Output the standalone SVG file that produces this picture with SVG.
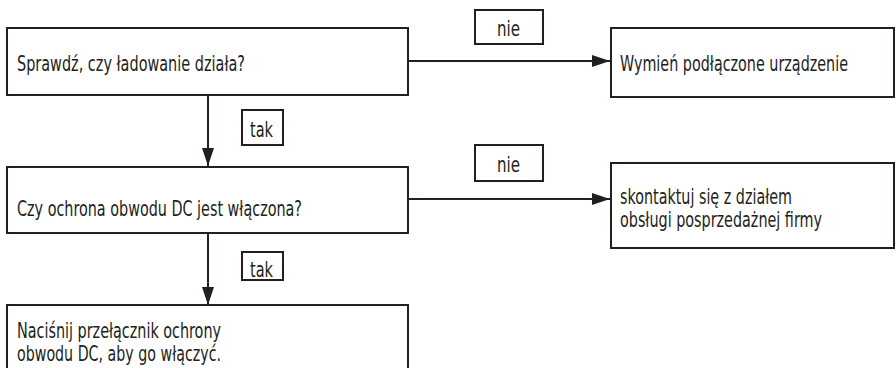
<svg xmlns="http://www.w3.org/2000/svg" width="896" height="368" viewBox="0 0 896 368">
  <style>
    .box { fill: #ffffff; stroke: #231f20; stroke-width: 2; }
    .lbl { fill: #ffffff; stroke: #231f20; stroke-width: 2; }
    .line { fill: none; stroke: #231f20; stroke-width: 2; }
    text { font-family: "DejaVu Sans Condensed", "Liberation Sans Narrow", "Liberation Sans", sans-serif; font-size: 21px; fill: #231f20; }
  </style>
  <defs>
    <marker id="arrow" viewBox="0 0 18 12" refX="18" refY="6" markerWidth="18" markerHeight="12" markerUnits="userSpaceOnUse" orient="auto">
      <path d="M0,0 L18,6 L0,12 Z" fill="#231f20"/>
    </marker>
  </defs>

  <g id="connectors">
    <line class="line" x1="408" y1="61" x2="610" y2="61" marker-end="url(#arrow)"/>
    <line class="line" x1="408" y1="199" x2="610" y2="199" marker-end="url(#arrow)"/>
    <line class="line" x1="208" y1="95" x2="208" y2="166" marker-end="url(#arrow)"/>
    <line class="line" x1="208" y1="233" x2="208" y2="305" marker-end="url(#arrow)"/>
  </g>

  <g id="check-charging">
    <rect class="box" x="7" y="28" width="401" height="67"/>
    <text x="17" y="71" textLength="228" lengthAdjust="spacingAndGlyphs">Sprawdź, czy ładowanie działa?</text>
  </g>

  <g id="replace-device">
    <rect class="box" x="611" y="28" width="283" height="69"/>
    <text x="620" y="71" textLength="228" lengthAdjust="spacingAndGlyphs">Wymień podłączone urządzenie</text>
  </g>

  <g id="check-dc-protection">
    <rect class="box" x="7" y="167" width="401" height="66"/>
    <text x="17" y="216" textLength="285" lengthAdjust="spacingAndGlyphs">Czy ochrona obwodu DC jest włączona?</text>
  </g>

  <g id="contact-service">
    <rect class="box" x="611" y="163" width="283" height="85"/>
    <text x="620" y="204" textLength="172" lengthAdjust="spacingAndGlyphs">skontaktuj się z działem</text>
    <text x="620" y="227" textLength="202" lengthAdjust="spacingAndGlyphs">obsługi posprzedażnej firmy</text>
  </g>

  <g id="press-switch">
    <rect class="box" x="7" y="305" width="401" height="70"/>
    <text x="17" y="338" textLength="204" lengthAdjust="spacingAndGlyphs">Naciśnij przełącznik ochrony</text>
    <text x="17" y="361" textLength="204" lengthAdjust="spacingAndGlyphs">obwodu DC, aby go włączyć.</text>
  </g>

  <g id="label-no-1">
    <rect class="lbl" x="475" y="10" width="68" height="34"/>
    <text x="497" y="36" textLength="23" lengthAdjust="spacingAndGlyphs">nie</text>
  </g>
  <g id="label-yes-1">
    <rect class="lbl" x="242" y="110" width="41" height="35"/>
    <text x="250" y="137" textLength="23" lengthAdjust="spacingAndGlyphs">tak</text>
  </g>
  <g id="label-no-2">
    <rect class="lbl" x="475" y="145" width="68" height="36"/>
    <text x="497" y="172" textLength="23" lengthAdjust="spacingAndGlyphs">nie</text>
  </g>
  <g id="label-yes-2">
    <rect class="lbl" x="242" y="252" width="41" height="28"/>
    <text x="250" y="277" textLength="23" lengthAdjust="spacingAndGlyphs">tak</text>
  </g>
</svg>
